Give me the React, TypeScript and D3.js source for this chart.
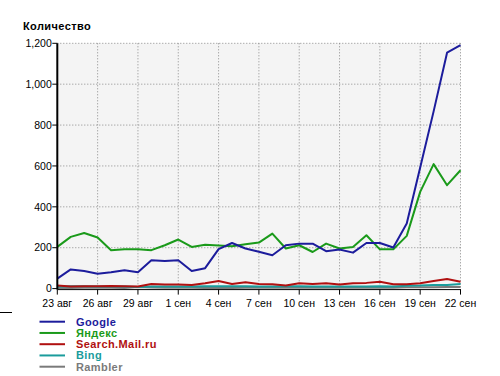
import React from "react";
import * as d3 from "d3";

const dayLabels = ["23 авг","24 авг","25 авг","26 авг","27 авг","28 авг","29 авг","30 авг","31 авг","1 сен","2 сен","3 сен","4 сен","5 сен","6 сен","7 сен","8 сен","9 сен","10 сен","11 сен","12 сен","13 сен","14 сен","15 сен","16 сен","17 сен","18 сен","19 сен","20 сен","21 сен","22 сен"];
const tickLabels = ["23 авг","26 авг","29 авг","1 сен","4 сен","7 сен","10 сен","13 сен","16 сен","19 сен","22 сен"];
const yTicks = [0, 200, 400, 600, 800, 1000, 1200];

const google = [49, 94, 86, 73, 80, 90, 80, 139, 135, 139, 86, 100, 193, 223, 196, 180, 163, 212, 220, 220, 183, 191, 176, 223, 223, 201, 318, 592, 867, 1154, 1191];
const yandex = [204, 253, 272, 250, 188, 192, 192, 188, 212, 240, 204, 214, 211, 207, 217, 225, 269, 196, 212, 179, 220, 196, 204, 261, 192, 192, 258, 473, 609, 506, 579];
const mail = [15, 10, 12, 12, 13, 12, 10, 22, 20, 20, 18, 26, 37, 23, 31, 23, 21, 15, 26, 23, 26, 20, 26, 28, 34, 21, 21, 26, 37, 47, 34];
const bing = [10, 12, 12, 10, 10, 10, 8, 10, 10, 10, 10, 12, 12, 12, 12, 10, 10, 12, 12, 10, 10, 10, 10, 10, 12, 10, 14, 15, 18, 18, 22];
const rambler = [3, 3, 4, 4, 4, 3, 8, 5, 4, 4, 4, 3, 3, 3, 4, 4, 4, 4, 5, 4, 4, 4, 4, 4, 5, 4, 6, 7, 7, 8, 8];

const seriesNames = ["Google", "Яндекс", "Search.Mail.ru", "Bing", "Rambler"];
const seriesColors = ["#1c1c9c", "#1a9a1a", "#b01010", "#1a9c9c", "#7a7a7a"];
const seriesData = [google, yandex, mail, bing, rambler];

export default function App() {
  const left = 57.3, right = 460.5, top = 43.3, bottom = 288.6;
  const x = d3.scaleLinear().domain([0, dayLabels.length - 1]).range([left, right]);
  const y = d3.scaleLinear().domain([0, 1200]).range([bottom, top]);
  const line = d3.line<number>().x((_, i) => x(i)).y((d) => y(d));
  const fmt = d3.format(",");
  const font = "'Liberation Sans', Arial, sans-serif";
  const tickIdx = tickLabels.map((t) => dayLabels.indexOf(t));
  const drawOrder = [4, 3, 2, 1, 0];

  return (
    <div style={{ position: "absolute", left: 0, top: 0 }}>
      <svg width={500} height={376} style={{ display: "block", background: "#fff" }}>
        <rect x={left} y={top} width={right - left} height={bottom - top} fill="#f4f4f4" />
        {yTicks.filter((t) => t > 0).map((t) => (
          <line key={"gy" + t} x1={left} x2={right} y1={y(t)} y2={y(t)} stroke="#8a8a8a" strokeWidth={1} strokeDasharray="1,2" />
        ))}
        {tickIdx.filter((i) => i > 0).map((i) => (
          <line key={"gx" + i} x1={x(i)} x2={x(i)} y1={top} y2={bottom} stroke="#8a8a8a" strokeWidth={1} strokeDasharray="1,2" />
        ))}
        {drawOrder.map((s) => (
          <path key={"s" + s} d={line(seriesData[s]) || ""} fill="none" stroke={seriesColors[s]} strokeWidth={2} strokeLinejoin="round" />
        ))}
        {/* axes */}
        <line x1={left} x2={left} y1={top} y2={bottom + 1} stroke="#000" strokeWidth={2} />
        <line x1={left} x2={right + 0.5} y1={bottom + 1} y2={bottom + 1} stroke="#000" strokeWidth={1} />
        {yTicks.map((t) => (
          <g key={"yt" + t}>
            <line x1={left - 5} x2={left} y1={y(t)} y2={y(t)} stroke="#000" strokeWidth={1} />
            <text x={left - 5.5} y={y(t)} dy="0.36em" textAnchor="end" fontFamily={font} fontSize={10.5} fill="#000">{fmt(t)}</text>
          </g>
        ))}
        {tickIdx.map((i, k) => (
          <g key={"xt" + i}>
            <line x1={x(i)} x2={x(i)} y1={bottom + 1} y2={bottom + 6} stroke="#000" strokeWidth={1} />
            <text x={x(i)} y={306.5} textAnchor="middle" fontFamily={font} fontSize={10.5} fill="#000">{tickLabels[k]}</text>
          </g>
        ))}
        <text x={23} y={30} fontFamily={font} fontSize={11} fontWeight="bold" letterSpacing={0.4} fill="#000">Количество</text>
        <line x1={0} x2={12} y1={312.5} y2={312.5} stroke="#000" strokeWidth={1} />
        {seriesNames.map((n, i) => (
          <g key={"lg" + i}>
            <line x1={39.5} x2={65} y1={321.7 + i * 11.25} y2={321.7 + i * 11.25} stroke={seriesColors[i]} strokeWidth={2} />
            <text x={76} y={321.7 + i * 11.25} dy="0.36em" fontFamily={font} fontSize={11} fontWeight="bold" letterSpacing={0.4} fill={seriesColors[i]}>{n}</text>
          </g>
        ))}
      </svg>
    </div>
  );
}
